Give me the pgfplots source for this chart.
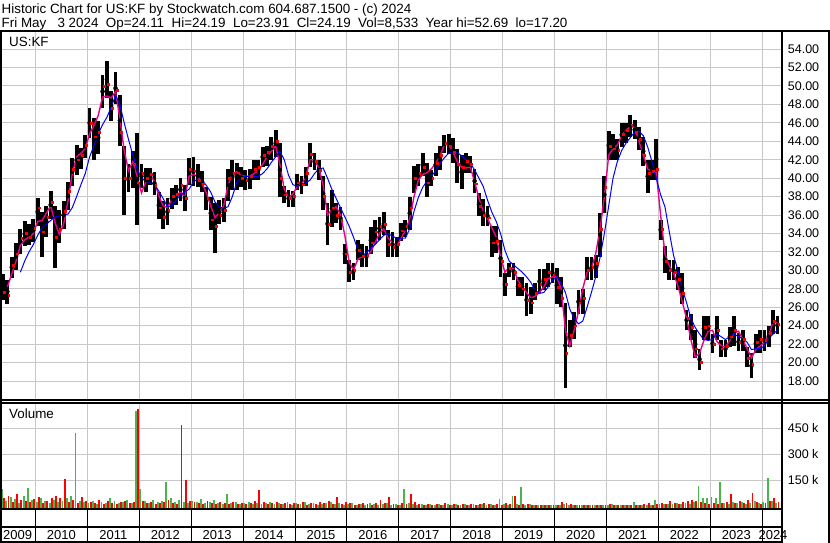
\documentclass[border=0pt]{standalone}
\usepackage{fontspec}
\setmainfont{Liberation Sans}
\usepackage{pgfplots}
\usepackage{pgfplotstable}
\pgfplotsset{compat=1.18}

\definecolor{gridgray}{RGB}{200,200,200}
\definecolor{volgreen}{RGB}{76,180,76}

% monthly rows, k = months since May 2009
% hi/lo = price range, cl = close, ma1 = magenta avg, ma2 = blue avg, vg/vr = volume (k)
\pgfplotstableread{
k hi lo cl ma1 ma2 vg vr
0 29.6 26.8 27.6 nan nan 100 45
1 29.0 26.4 27.3 28.2 nan 30 60
2 31.5 29.2 30.6 29.6 nan 55 25
3 33.0 30.0 31.8 31.0 nan 40 70
4 34.5 31.8 33.5 32.7 29.8 20 35
5 35.3 32.6 34.0 33.3 31.0 60 30
6 35.0 32.8 33.6 33.6 32.0 105 25
7 35.6 33.1 34.6 34.0 32.8 35 40
8 37.9 34.8 36.8 35.3 33.8 25 55
9 36.3 31.4 34.2 35.4 34.6 45 20
10 37.0 33.6 35.8 36.2 35.0 30 30
11 38.6 35.6 37.4 37.0 35.4 20 50
12 37.0 30.3 33.6 35.2 35.8 35 60
13 36.6 33.0 34.5 33.9 35.9 25 45
14 37.5 34.5 36.4 35.0 36.0 30 157
15 39.6 36.5 38.6 37.5 36.1 45 25
16 42.2 39.2 41.0 40.5 36.8 60 35
17 43.6 40.3 42.0 42.3 38.0 421 20
18 43.3 41.0 42.5 42.7 39.3 30 55
19 44.7 42.2 43.6 43.2 40.5 25 30
20 47.6 44.4 46.0 44.8 42.3 20 25
21 46.5 42.0 44.5 45.7 43.5 30 20
22 46.2 42.6 45.0 46.8 44.8 15 35
23 51.2 47.6 50.0 48.8 45.8 25 15
24 52.7 48.7 50.2 48.9 46.6 20 30
25 49.5 46.2 47.6 48.7 47.7 45 20
26 51.5 48.0 49.5 49.4 49.0 30 15
27 49.0 43.5 45.0 46.5 48.0 20 25
28 43.5 36.0 40.0 43.0 46.0 25 30
29 41.5 38.5 40.0 40.8 44.2 35 20
30 42.9 38.9 41.5 41.8 42.5 20 25
31 44.9 34.9 39.5 40.2 41.0 550 561
32 41.5 38.9 40.5 38.4 40.0 100 30
33 41.1 38.5 40.0 39.6 39.7 30 20
34 41.1 39.3 40.4 40.4 39.5 20 25
35 40.7 38.2 39.2 39.6 39.3 35 15
36 38.5 35.6 36.8 38.1 38.6 25 20
37 37.5 34.5 35.8 37.0 37.8 30 25
38 37.8 34.9 36.5 36.8 36.9 142 35
39 38.9 36.7 38.0 37.7 37.0 45 20
40 39.3 37.1 38.3 38.1 37.6 25 15
41 40.0 37.5 39.2 38.5 38.2 35 469
42 39.3 36.4 37.8 37.9 38.5 25 152
43 42.2 39.3 41.0 40.2 38.8 20 30
44 42.3 39.1 40.8 40.4 39.6 30 25
45 41.5 39.0 39.8 40.2 39.9 25 20
46 40.8 38.5 39.4 39.4 39.8 40 15
47 39.0 36.5 37.8 38.4 39.2 20 30
48 38.0 34.4 35.5 37.0 38.5 25 20
49 37.3 31.9 34.8 35.7 37.4 35 15
50 37.6 35.0 36.0 36.3 36.9 20 25
51 37.8 35.2 36.5 37.0 36.7 15 20
52 41.0 37.5 40.0 39.2 36.9 71 15
53 42.0 38.7 40.5 40.5 38.0 20 25
54 41.6 38.7 40.6 40.7 39.5 25 15
55 41.2 39.0 40.0 40.3 40.0 15 20
56 40.9 38.7 39.8 40.2 40.2 20 15
57 41.0 38.8 40.2 40.2 40.2 25 20
58 42.0 39.8 41.0 40.5 40.2 15 30
59 42.0 39.8 41.2 40.8 40.2 20 94
60 43.4 41.2 42.5 41.5 40.5 15 25
61 43.5 41.3 42.8 42.3 41.0 20 15
62 44.5 42.0 43.5 42.9 41.7 25 20
63 45.2 42.3 44.0 43.5 42.3 15 25
64 43.8 38.0 40.0 41.5 42.9 20 15
65 39.1 37.3 38.2 38.8 42.0 15 20
66 38.7 36.9 37.8 37.9 40.3 25 15
67 38.6 36.9 38.0 38.3 39.3 10 20
68 40.5 38.7 39.5 39.1 39.1 20 15
69 40.2 38.3 39.3 39.3 39.3 15 25
70 41.2 39.1 40.5 40.2 39.5 25 10
71 43.8 41.2 42.6 42.0 39.8 15 20
72 42.7 40.9 41.8 42.0 40.5 20 15
73 42.0 39.8 40.9 41.1 41.0 10 25
74 40.2 36.5 38.0 39.2 41.1 15 20
75 37.3 32.8 35.0 36.0 40.0 20 30
76 38.7 34.7 36.8 36.6 38.8 25 15
77 37.3 35.1 36.0 36.9 37.8 15 54
78 36.9 34.4 35.4 36.0 36.8 20 15
79 32.9 30.7 31.8 33.8 35.8 10 25
80 31.1 28.7 29.8 30.9 34.8 15 20
81 30.8 29.0 30.0 30.0 33.6 20 10
82 33.3 31.1 32.2 31.2 32.3 10 15
83 32.9 30.4 31.5 31.5 31.6 15 20
84 32.6 30.4 31.6 31.5 31.9 10 15
85 34.7 31.8 33.0 32.0 32.4 20 10
86 35.5 32.9 34.2 33.0 32.8 15 20
87 35.8 33.3 34.8 34.0 33.3 10 35
88 36.3 33.8 35.0 34.5 33.8 15 20
89 34.4 31.5 32.8 33.5 34.0 20 54
90 34.2 31.4 32.5 33.0 33.7 10 15
91 33.6 31.5 32.8 32.6 33.5 15 10
92 35.1 33.2 34.3 33.5 33.5 10 20
93 35.5 33.6 34.8 34.3 33.5 100 15
94 38.0 34.4 36.8 35.6 34.5 20 71
95 41.3 38.4 40.0 38.0 36.4 15 25
96 41.5 39.1 40.5 39.8 37.9 10 15
97 42.7 40.2 41.2 40.4 39.0 15 10
98 41.6 38.0 39.5 40.6 39.7 10 15
99 40.9 39.1 40.0 41.0 40.2 15 10
100 42.7 40.2 41.6 41.6 40.8 10 15
101 43.5 40.9 42.5 42.4 41.6 15 10
102 44.7 42.7 43.8 43.6 42.2 10 20
103 44.8 42.6 43.5 43.7 42.7 15 10
104 44.4 41.6 42.8 42.8 42.9 10 15
105 43.2 39.5 41.5 41.8 42.8 15 10
106 42.5 38.8 41.2 41.2 42.4 10 15
107 42.7 40.6 41.8 41.1 42.0 15 10
108 42.4 40.6 41.5 41.2 41.6 10 15
109 41.0 38.4 39.4 39.6 40.9 15 10
110 38.4 35.9 37.0 37.8 40.0 10 15
111 37.7 34.8 36.0 36.4 39.1 15 20
112 37.0 34.8 35.7 35.6 37.6 10 15
113 34.8 31.5 33.0 34.6 36.3 15 10
114 34.8 31.9 33.2 33.6 35.3 10 15
115 33.3 29.3 31.0 31.5 34.0 42 10
116 29.7 27.2 28.5 29.8 32.2 15 20
117 30.8 29.3 30.2 30.3 31.0 10 15
118 30.8 29.0 29.8 30.2 30.6 59 59
119 29.3 27.2 28.4 28.9 30.2 15 10
120 29.3 27.2 28.0 28.2 29.8 109 15
121 28.6 25.0 26.8 27.6 29.3 10 15
122 28.2 25.3 26.5 27.0 28.7 15 10
123 28.6 26.8 27.5 27.2 27.8 10 8
124 30.1 27.5 28.5 27.6 27.5 8 10
125 30.1 27.9 29.0 28.2 27.6 10 8
126 30.8 28.2 29.8 29.1 28.2 8 10
127 30.8 28.6 29.5 29.3 28.9 10 8
128 30.3 26.4 28.2 29.3 29.3 8 10
129 29.3 26.0 27.0 28.0 28.6 10 25
130 26.5 17.2 21.0 23.5 27.6 15 20
131 24.6 21.7 23.0 21.8 25.8 10 15
132 25.5 22.6 24.0 23.5 24.8 8 10
133 27.9 25.3 26.5 25.5 24.2 10 8
134 28.0 25.3 27.0 28.0 24.5 8 10
135 31.5 28.9 30.0 29.8 26.0 10 8
136 31.5 29.0 30.3 30.2 27.6 8 10
137 31.7 29.2 30.8 31.8 29.3 10 8
138 36.2 31.5 34.5 34.5 31.4 8 10
139 40.2 36.2 39.0 38.0 34.0 10 8
140 45.1 42.0 43.5 42.5 37.0 8 12
141 44.8 42.0 43.2 43.2 40.0 12 8
142 44.2 42.0 43.0 43.6 41.8 8 10
143 46.0 43.4 44.8 44.6 43.0 10 8
144 46.0 43.8 45.2 45.2 43.8 8 10
145 46.9 44.5 45.8 45.6 44.4 10 8
146 46.3 44.2 45.0 45.5 45.0 24 10
147 45.6 43.1 44.2 44.0 45.1 10 8
148 44.5 41.3 42.5 42.5 44.6 8 12
149 42.0 38.4 40.5 41.0 43.4 10 21
150 42.0 39.8 40.8 40.7 41.8 8 10
151 44.3 39.8 41.0 40.6 40.0 36 12
152 35.5 33.3 34.5 36.0 38.2 12 20
153 32.6 29.7 31.0 31.8 36.9 15 12
154 31.1 28.9 30.0 30.5 34.2 12 30
155 31.1 28.9 29.8 29.7 31.6 15 20
156 30.4 27.9 29.0 28.3 30.0 20 15
157 29.7 26.4 27.5 26.6 28.0 15 25
158 25.7 23.5 24.8 24.8 26.5 20 30
159 25.3 22.4 23.8 22.5 24.8 15 35
160 23.5 20.5 21.5 20.6 23.8 25 30
161 21.5 19.2 20.0 21.0 23.1 117 25
162 25.0 22.4 23.8 22.4 22.5 46 20
163 25.0 22.4 24.0 23.4 22.4 46 15
164 23.1 21.0 22.0 23.5 22.5 54 20
165 25.0 22.4 23.5 22.3 23.1 46 15
166 22.4 20.6 21.5 21.8 22.8 140 20
167 22.4 20.6 21.8 21.7 22.5 20 25
168 23.9 21.7 22.8 22.4 22.8 15 71
169 25.0 21.8 23.5 23.2 23.1 25 20
170 23.2 21.3 22.2 23.4 22.8 20 30
171 23.5 21.3 22.5 22.5 22.6 25 20
172 21.7 19.5 20.5 21.5 22.2 15 35
173 21.0 18.3 19.8 20.5 21.4 20 75
174 23.1 21.0 22.2 21.4 21.5 30 25
175 23.5 21.0 22.5 21.8 21.5 20 15
176 23.5 21.3 22.4 22.2 21.8 25 20
177 24.0 21.7 23.2 23.0 22.6 163 30
178 25.7 23.1 24.5 24.4 23.1 30 48
179 25.0 23.1 24.2 24.3 23.5 20 25
}\kf

\pgfplotsset{
  panel/.style={
    scale only axis, anchor=south west, width=782pt,
    xmin=-0.707, xmax=180.06,
    axis line style={draw=none},
    xtick={7.5,19.5,...,175.5}, xticklabels={},
    major tick length=0pt,
    grid=major, major grid style={gridgray, line width=1pt},
    yticklabel pos=right,
    yticklabel style={anchor=west, inner sep=0pt, xshift=5.7pt,
      font=\fontsize{12.5}{14}\selectfont},
  },
}

\begin{document}
\begin{tikzpicture}
\useasboundingbox (0pt,0pt) rectangle (830pt,543pt);
\fill[white] (0pt,0pt) rectangle (830pt,543pt);

% price panel
\begin{axis}[panel, at={(0pt,143pt)}, height=369pt,
  ymin=15.94, ymax=55.96,
  ytick={18,20,...,54},
  yticklabels={18.00,20.00,22.00,24.00,26.00,28.00,30.00,32.00,34.00,36.00,
    38.00,40.00,42.00,44.00,46.00,48.00,50.00,52.00,54.00}]
\addplot[black, only marks, mark=none,
  error bars/.cd, y dir=both, y explicit, error mark=none,
  error bar style={line width=3.8pt, black}]
  table[x=k, y expr=(\thisrow{hi}+\thisrow{lo})/2,
        y error expr=(\thisrow{hi}-\thisrow{lo})/2] {\kf};
\addplot[red, only marks, mark=square*, mark size=0.9pt]
  table[x expr=\thisrow{k}+0.3, y=cl] {\kf};
\addplot[magenta, line width=1.4pt] table[x=k, y=ma1] {\kf};
\addplot[blue, line width=1pt] table[x=k, y=ma2] {\kf};
\end{axis}

% volume panel, axis value = volume + 18.5 so bars stand on the frame
\begin{axis}[panel, at={(0pt,33.5pt)}, height=106.5pt,
  ymin=0, ymax=614.5,
  ytick={168.5,318.5,468.5}, yticklabels={150 k,300 k,450 k}]
\addplot[volgreen, ycomb, line width=1.9pt, mark=none]
  table[x expr=\thisrow{k}-0.25, y expr=\thisrow{vg}+18.5] {\kf};
\addplot[red, ycomb, line width=1.9pt, mark=none]
  table[x expr=\thisrow{k}+0.25, y expr=\thisrow{vr}+18.5] {\kf};
\end{axis}

% frame
\draw[line width=2pt] (0pt,512pt) -- (830pt,512pt);
\draw[line width=1.5pt] (0pt,143pt) -- (830pt,143pt);
\draw[line width=1.5pt] (0pt,140pt) -- (830pt,140pt);
\draw[line width=2pt] (0pt,33.5pt) -- (782pt,33.5pt);
\draw[line width=2pt] (0pt,16pt) -- (782pt,16pt);
\draw[line width=2pt] (0pt,1pt) -- (782pt,1pt);
\draw[line width=2pt] (1pt,0pt) -- (1pt,512pt);
\draw[line width=2.5pt] (782pt,0pt) -- (782pt,512pt);
\draw[line width=2pt] (828.5pt,0pt) -- (828.5pt,512pt);
\foreach \i in {0,...,14}
  \draw[line width=1pt] ({(35.5+51.91*\i)*1pt},1pt) -- ({(35.5+51.91*\i)*1pt},33.5pt);

% years
\begin{scope}[font=\fontsize{13}{15}\selectfont]
\node[anchor=base] at (17.7pt,3pt) {2009};
\foreach \yr [count=\i from 0] in {2010,...,2023}
  \node[anchor=base] at ({(35.5+51.91*(\i+0.5))*1pt},3pt) {\yr};
\node[anchor=base] at (773pt,3pt) {2024};
\end{scope}

% texts
\begin{scope}[font=\fontsize{13.4}{15}\selectfont]
\node[anchor=base west, inner sep=0pt] at (1.5pt,529.5pt)
  {Historic Chart for US:KF by Stockwatch.com 604.687.1500 - (c) 2024};
\node[anchor=base west, inner sep=0pt] at (1.5pt,515.3pt)
  {Fri May\ \ \ 3 2024\ \ Op=24.11\ \ Hi=24.19\ \ Lo=23.91\ \ Cl=24.19\ \ Vol=8,533\ \ Year hi=52.69\ \ lo=17.20};
\node[anchor=base west, inner sep=0pt] at (9pt,496.3pt) {US:KF};
\node[anchor=base west, inner sep=0pt] at (9pt,124.7pt) {Volume};
\end{scope}
\end{tikzpicture}
\end{document}
